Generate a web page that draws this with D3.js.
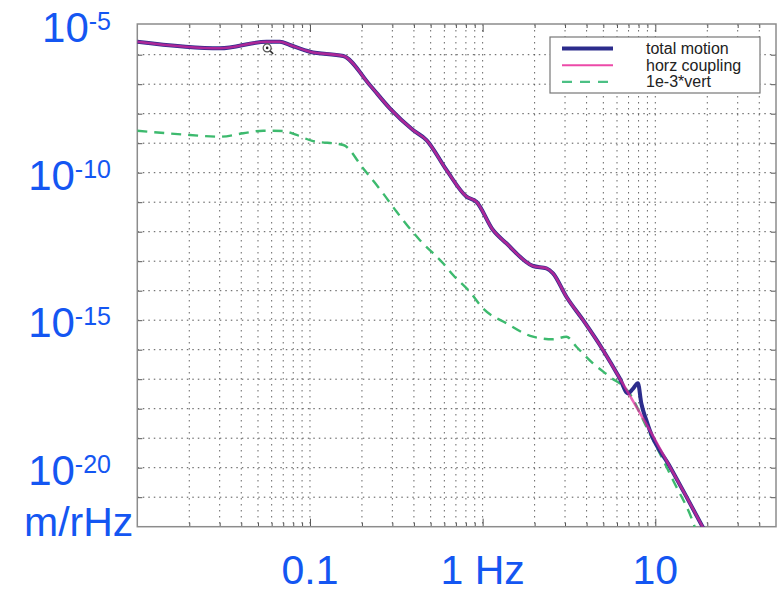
<!DOCTYPE html>
<html>
<head>
<meta charset="utf-8">
<script src="https://cdnjs.cloudflare.com/ajax/libs/d3/7.8.5/d3.min.js"></script>
<style>
  body { margin: 0; background: #fff; }
  svg { display: block; font-family: "Liberation Sans", Arial, sans-serif; }
</style>
</head>
<body>
<svg id="chart" width="780" height="591"></svg>
<script>
var chartWidth = 780;
var chartHeight = 591;

/********
 * Data *
 ********/

// horizontal coupling (Hz, m/rHz)
var freqHorz = [0.01, 0.0301, 0.0561, 0.067, 0.0765, 0.1, 0.156, 0.222, 0.29, 0.395, 0.473, 0.617, 0.806, 0.92,
    1.148, 1.373, 1.957, 2.34, 2.556, 3.055, 3.81, 4.975, 6.22, 9.27, 12, 15, 20];
var horzCoupling = [2.76e-6, 1.65e-6, 2.76e-6, 2.76e-6, 2.13e-6, 1.26e-6, 9.0e-7, 9.4e-8, 1.52e-8, 2.8e-9, 1.28e-9, 1.24e-10, 1.55e-11, 1.04e-11,
    1.14e-12, 4.05e-13, 6.87e-14, 5.74e-14, 3.89e-14, 6.26e-15, 1.02e-15, 9.8e-17, 1.07e-17, 1.9e-19, 1.23e-20, 1.15e-21, 5e-23];

// total motion (same as horz except the bump near 8 Hz)
var freqTotal = [0.01, 0.0301, 0.0561, 0.067, 0.0765, 0.1, 0.156, 0.222, 0.29, 0.395, 0.473, 0.617, 0.806, 0.92,
    1.148, 1.373, 1.957, 2.34, 2.556, 3.055, 3.81, 4.975, 6.22, 6.94, 7.39, 7.93, 8.30, 8.87, 9.27, 12, 15, 20];
var totalMotion = [2.76e-6, 1.65e-6, 2.76e-6, 2.76e-6, 2.13e-6, 1.26e-6, 9.0e-7, 9.4e-8, 1.52e-8, 2.8e-9, 1.28e-9, 1.24e-10, 1.55e-11, 1.04e-11,
    1.14e-12, 4.05e-13, 6.87e-14, 5.74e-14, 3.89e-14, 6.26e-15, 1.02e-15, 9.8e-17, 1.07e-17, 3.3e-18, 4.6e-18, 7.3e-18, 1.5e-18, 4.1e-19, 1.9e-19, 1.23e-20, 1.15e-21, 5e-23];

// 1e-3 * vertical
var freqVert = [0.01, 0.0202, 0.0301, 0.0411, 0.0536, 0.070, 0.0837, 0.102, 0.156, 0.203, 0.265, 0.317, 0.432, 0.590, 0.674,
    0.842, 1.005, 1.373, 1.957, 2.556, 3.055, 3.49, 4.355, 5.44, 7.10, 8.87, 12.65, 16.88, 18];
var vert = [2.65e-9, 1.9e-9, 1.66e-9, 2.17e-9, 2.65e-9, 2.6e-9, 1.9e-9, 1.22e-9, 8.7e-10, 1.41e-10, 2.0e-11, 4.8e-12, 5.25e-13, 8.5e-14, 3.4e-14,
    9.2e-15, 2.5e-15, 7.9e-16, 2.76e-16, 2.25e-16, 2.76e-16, 1.26e-16, 3.46e-17, 1.22e-17, 3.3e-18, 2.45e-19, 3.8e-21, 1e-22, 3e-23];

var seriesNames = ["total motion", "horz coupling", "1e-3*vert"];
var yLabelValues = [1e-5, 1e-10, 1e-15, 1e-20];
var yLabelExps = ["-5", "-10", "-15", "-20"];
var xLabelValues = [0.1, 1, 10];
var xLabelTexts = ["0.1", "1 Hz", "10"];
var cursorAt = [0.0565, 1.7e-6];

/**********
 * Scales *
 **********/

var plotLeft = 137.3, plotRight = 776, plotTop = 25.2, plotBottom = 526.7, frameTop = 24;

var x = d3.scaleLog().domain([0.01, 50]).range([plotLeft, plotRight]);
var y = d3.scaleLog().domain([1e-22, 1e-5]).range([plotBottom, plotTop]);

var svg = d3.select("#chart");

svg.append("defs").append("clipPath").attr("id", "plotclip")
    .append("rect")
    .attr("x", plotLeft).attr("y", frameTop)
    .attr("width", plotRight - plotLeft).attr("height", plotBottom - frameTop);

/********
 * Grid *
 ********/

var xGrid = x.ticks().filter(function(d){ return x(d) > plotLeft + 1 && x(d) < plotRight - 1; });
var yGrid = d3.range(-21, -5).map(function(e){ return Math.pow(10, e); });

var grid = svg.append("g").attr("class", "grid");

grid.selectAll(".vg").data(xGrid).enter().append("line")
    .attr("x1", function(d){ return x(d); })
    .attr("x2", function(d){ return x(d); })
    .attr("y1", frameTop).attr("y2", plotBottom)
    .attr("stroke", "#666")
    .attr("stroke-width", 1)
    .attr("stroke-dasharray", "1.5,4.5");

grid.selectAll(".hg").data(yGrid).enter().append("line")
    .attr("x1", plotLeft).attr("x2", plotRight)
    .attr("y1", function(d){ return y(d); })
    .attr("y2", function(d){ return y(d); })
    .attr("stroke", "#555")
    .attr("stroke-width", 1)
    .attr("stroke-dasharray", "1.5,4");

/********
 * Axes *
 ********/

var majorX = [0.1, 1, 10];

var xAxisBottom = d3.axisTop(x).tickValues(xGrid).tickSize(4).tickFormat("");
var xAxisTop = d3.axisBottom(x).tickValues(xGrid).tickSize(4).tickFormat("");
var yAxisLeft = d3.axisRight(y).tickValues(yGrid).tickSize(5).tickFormat("");
var yAxisRight = d3.axisLeft(y).tickValues(yGrid).tickSize(5).tickFormat("");

function styleAxis(g){
    g.select(".domain").remove();
    g.selectAll("line").attr("stroke", "#555");
    g.selectAll(".tick").filter(function(d){ return majorX.indexOf(d) >= 0; })
        .select("line").attr("y2", function(){ return +d3.select(this).attr("y2") * 2; });
}

svg.append("g").attr("transform", "translate(0," + plotBottom + ")").call(xAxisBottom).call(styleAxis);
svg.append("g").attr("transform", "translate(0," + frameTop + ")").call(xAxisTop).call(styleAxis);
svg.append("g").attr("transform", "translate(" + plotLeft + ",0)").call(yAxisLeft).call(styleAxis);
svg.append("g").attr("transform", "translate(" + plotRight + ",0)").call(yAxisRight).call(styleAxis);

// frame
svg.append("rect")
    .attr("x", plotLeft).attr("y", frameTop)
    .attr("width", plotRight - plotLeft).attr("height", plotBottom - frameTop)
    .attr("fill", "none")
    .attr("stroke", "#8c8c8c")
    .attr("stroke-width", 1.5);

/*********
 * Lines *
 *********/

function toPoints(fs, vs){
    return fs.map(function(f, i){ return [f, vs[i]]; });
}

var line = d3.line()
    .x(function(d){ return x(d[0]); })
    .y(function(d){ return y(d[1]); })
    .curve(d3.curveMonotoneX);

var plot = svg.append("g").attr("clip-path", "url(#plotclip)");

plot.append("path")
    .datum(toPoints(freqVert, vert))
    .attr("d", line)
    .attr("fill", "none")
    .attr("stroke", "#3dba6e")
    .attr("stroke-width", 2.4)
    .attr("stroke-dasharray", "10,7");

plot.append("path")
    .datum(toPoints(freqTotal, totalMotion))
    .attr("d", line)
    .attr("fill", "none")
    .attr("stroke", "#2c2c8c")
    .attr("stroke-width", 4)
    .attr("stroke-linejoin", "round");

plot.append("path")
    .datum(toPoints(freqHorz, horzCoupling))
    .attr("d", line)
    .attr("fill", "none")
    .attr("stroke", "#e3259c")
    .attr("stroke-opacity", 0.7)
    .attr("stroke-width", 2.6)
    .attr("stroke-linejoin", "round");

// cursor icon left in the screenshot
var cur = svg.append("g").attr("transform", "translate(" + x(cursorAt[0]) + "," + y(cursorAt[1]) + ")");
cur.append("circle").attr("r", 4).attr("fill", "#fff").attr("stroke", "#555").attr("stroke-width", 1.2);
cur.append("circle").attr("r", 1.3).attr("fill", "#222");
cur.append("line").attr("x1", 3).attr("y1", 3).attr("x2", 6).attr("y2", 6)
    .attr("stroke", "#333").attr("stroke-width", 1.6);

/**********
 * Legend *
 **********/

var legend = svg.append("g").attr("transform", "translate(550,37)");
legend.append("rect")
    .attr("width", 210).attr("height", 56)
    .attr("fill", "#fff")
    .attr("stroke", "#777")
    .attr("stroke-width", 1.2);

var legendStyles = [
    { color: "#2c2c8c", width: 4, dash: null },
    { color: "#ec4aa8", width: 2, dash: null },
    { color: "#4cc084", width: 2.4, dash: "10,8" }
];

seriesNames.forEach(function(name, i){
    var cy = 11.5 + i * 16.7;
    legend.append("line")
        .attr("x1", 12).attr("x2", 63)
        .attr("y1", cy).attr("y2", cy)
        .attr("stroke", legendStyles[i].color)
        .attr("stroke-width", legendStyles[i].width)
        .attr("stroke-dasharray", legendStyles[i].dash);
    legend.append("text")
        .attr("x", 96).attr("y", cy + 5.5)
        .attr("font-size", "16px")
        .attr("fill", "#222")
        .text(name);
});

/***************
 * Blue labels *
 ***************/

var blue = "#1456f2";

yLabelValues.forEach(function(v, i){
    var t = svg.append("text")
        .attr("x", 111)
        .attr("y", y(v) + 17)
        .attr("text-anchor", "end")
        .attr("fill", blue)
        .attr("font-size", "42px");
    t.append("tspan").text("10");
    t.append("tspan").attr("dy", -12).attr("font-size", "25px").text(yLabelExps[i]);
});

svg.append("text")
    .attr("x", 24)
    .attr("y", 536)
    .attr("fill", blue)
    .attr("font-size", "41px")
    .text("m/rHz");

svg.selectAll(".xlab").data(xLabelValues).enter().append("text")
    .attr("x", function(d){ return x(d); })
    .attr("y", 584)
    .attr("text-anchor", "middle")
    .attr("fill", blue)
    .attr("font-size", "41px")
    .text(function(d, i){ return xLabelTexts[i]; });
</script>
</body>
</html>
